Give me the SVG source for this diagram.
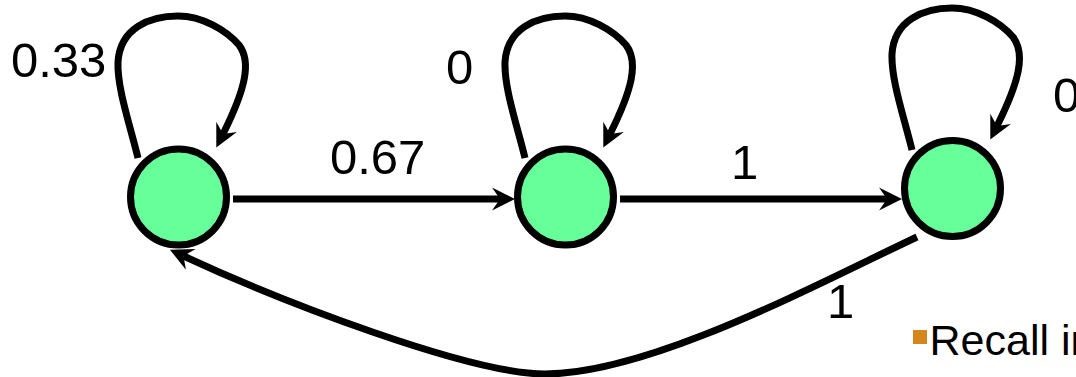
<svg xmlns="http://www.w3.org/2000/svg" width="1076" height="377" viewBox="0 0 1076 377">
<style>
.edge{fill:none;stroke:#000;stroke-width:7;marker-end:url(#ah)}
.node{fill:#66ff99;stroke:#000;stroke-width:7}
.lbl{font-family:"Liberation Sans",Arial,sans-serif;font-size:49px;fill:#000}
.txt{font-family:"Liberation Sans",Arial,sans-serif;font-size:43px;fill:#000}
</style>
<defs>
<marker id="ah" viewBox="-24 -13 26 26" refX="-15" refY="0" markerWidth="26" markerHeight="26" markerUnits="userSpaceOnUse" orient="auto">
<path d="M0,0 L-23,-11.5 L-15,0 L-23,11.5 Z" fill="#000"/>
</marker>
<path id="loop" d="M138,158 C130,125 117,88 118,62 C120,28 150,16 178,16 C202,16 226,30 239,45 C252,62 245,90 223,134"/>
</defs>
<g id="connectors">
<path class="edge" d="M233,199 L500,199"/>
<path class="edge" d="M620,199 L887,199"/>
<path class="edge" d="M917,237 C817,284 650,374 545,374 C470,374 282.5,302 183.5,256"/>
<use href="#loop" class="edge"/>
<use href="#loop" class="edge" transform="translate(387,0)"/>
<use href="#loop" class="edge" transform="translate(774,-8)"/>
</g>
<g id="node1"><circle class="node" cx="178.5" cy="197" r="48"/></g>
<g id="node2"><circle class="node" cx="565.5" cy="197" r="48"/></g>
<g id="node3"><circle class="node" cx="952.5" cy="188.5" r="48"/></g>
<g id="labels">
<text class="lbl" x="11" y="77">0.33</text>
<text class="lbl" x="446" y="84">0</text>
<text class="lbl" x="1053" y="112">0</text>
<text class="lbl" x="330" y="174">0.67</text>
<text class="lbl" x="731" y="179">1</text>
<text class="lbl" x="827" y="318">1</text>
</g>
<g id="note">
<rect x="913" y="330" width="14" height="14" fill="#d5861c"/>
<text class="txt" x="929.5" y="355">Recall in</text>
</g>
</svg>
